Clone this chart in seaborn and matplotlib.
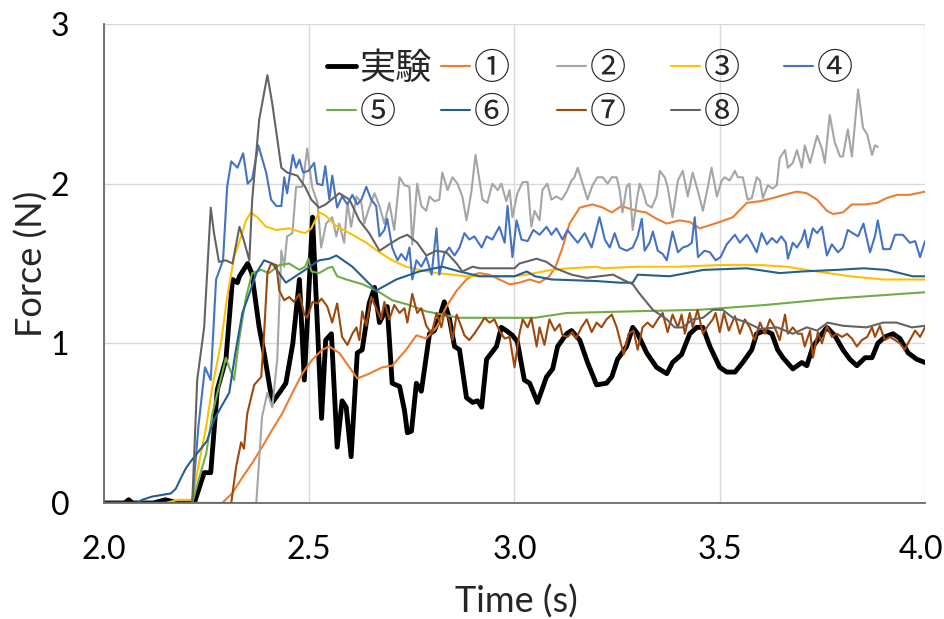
import matplotlib
matplotlib.use("Agg")
import matplotlib.pyplot as plt
import matplotlib.transforms as mtransforms
import seaborn as sns
import pandas as pd
from matplotlib.ticker import MultipleLocator, FormatStrFormatter

# ---------------- data ----------------
series_names = ["実験", "①", "②", "③", "④", "⑤", "⑥", "⑦", "⑧"]

t_exp = [2.00, 2.05, 2.06, 2.07, 2.12, 2.15, 2.18, 2.22, 2.244, 2.26, 2.276, 2.297, 2.313, 2.325, 2.33, 2.35, 2.36,
         2.378, 2.39, 2.41, 2.427, 2.443, 2.46, 2.476, 2.488, 2.508, 2.53, 2.54, 2.554, 2.568, 2.58, 2.59, 2.602,
         2.617, 2.629, 2.646, 2.659, 2.671, 2.683, 2.69, 2.702, 2.72, 2.732, 2.739, 2.749, 2.761, 2.773, 2.793,
         2.805, 2.817, 2.829, 2.841, 2.854, 2.866, 2.883, 2.898, 2.91, 2.92, 2.932, 2.944, 2.956, 2.968, 2.98,
         2.995, 3.007, 3.024, 3.037, 3.056, 3.078, 3.093, 3.105, 3.127, 3.139, 3.159, 3.178, 3.2, 3.224, 3.237,
         3.251, 3.273, 3.288, 3.30, 3.322, 3.346, 3.371, 3.385, 3.407, 3.427, 3.444, 3.459, 3.476, 3.5, 3.517,
         3.537, 3.556, 3.578, 3.59, 3.61, 3.627, 3.641, 3.654, 3.678, 3.70, 3.712, 3.727, 3.749, 3.761, 3.78,
         3.80, 3.817, 3.834, 3.854, 3.871, 3.885, 3.902, 3.922, 3.939, 3.959, 3.98, 4.0]
f_exp = [0.0, 0.0, 0.02, 0.0, 0.0, 0.02, 0.0, 0.0, 0.19, 0.19, 0.71, 0.90, 1.40, 1.38, 1.42, 1.50, 1.44,
         1.10, 0.94, 0.63, 0.69, 0.75, 1.00, 1.40, 0.77, 1.79, 0.53, 1.02, 1.06, 0.35, 0.64, 0.60, 0.29,
         0.94, 0.96, 1.25, 1.35, 1.13, 1.19, 1.23, 0.75, 0.73, 0.58, 0.44, 0.45, 0.75, 0.70, 1.06,
         1.08, 1.16, 1.26, 1.16, 0.98, 0.96, 0.66, 0.63, 0.64, 0.60, 0.90, 0.94, 0.98, 1.10, 1.08,
         1.05, 1.01, 0.77, 0.75, 0.63, 0.79, 0.84, 0.98, 1.06, 1.08, 1.02, 0.88, 0.74, 0.75, 0.79,
         0.90, 0.98, 1.10, 1.06, 0.94, 0.85, 0.81, 0.88, 0.93, 1.06, 1.10, 1.10, 0.98, 0.85, 0.82,
         0.82, 0.88, 0.96, 1.06, 1.08, 1.06, 0.96, 0.91, 0.84, 0.88, 0.86, 0.98, 1.06, 1.10, 1.05,
         0.96, 0.90, 0.86, 0.91, 0.91, 1.00, 1.04, 1.06, 1.03, 0.94, 0.90, 0.88]

t_s1 = [2.0, 2.288, 2.312, 2.337, 2.361, 2.385, 2.41, 2.434, 2.459, 2.483, 2.508, 2.532, 2.549, 2.573, 2.598,
        2.617, 2.646, 2.678, 2.702, 2.736, 2.761, 2.785, 2.81, 2.834, 2.859, 2.883, 2.90, 2.915, 2.939, 2.963,
        2.988, 3.012, 3.037, 3.061, 3.085, 3.10, 3.117, 3.134, 3.159, 3.19, 3.215, 3.237, 3.26, 3.297, 3.32,
        3.346, 3.371, 3.402, 3.427, 3.451, 3.476, 3.5, 3.532, 3.566, 3.598, 3.63, 3.656, 3.688, 3.712, 3.737,
        3.761, 3.776, 3.80, 3.822, 3.854, 3.883, 3.907, 3.932, 3.963, 4.0]
f_s1 = [0.0, 0.0, 0.06, 0.16, 0.25, 0.35, 0.46, 0.56, 0.69, 0.81, 0.90, 0.96, 0.98, 0.94, 0.85,
        0.78, 0.81, 0.85, 0.86, 0.96, 1.05, 1.03, 1.10, 1.23, 1.33, 1.40, 1.43, 1.44, 1.43, 1.40,
        1.37, 1.38, 1.40, 1.38, 1.42, 1.48, 1.60, 1.75, 1.85, 1.87, 1.85, 1.82, 1.86, 1.83, 1.82,
        1.78, 1.75, 1.77, 1.76, 1.72, 1.74, 1.76, 1.79, 1.88, 1.89, 1.91, 1.93, 1.95, 1.94, 1.90,
        1.83, 1.81, 1.82, 1.87, 1.87, 1.88, 1.91, 1.93, 1.93, 1.95]

t_s2 = [2.0, 2.371, 2.385, 2.398, 2.41, 2.422, 2.432, 2.439, 2.446, 2.459, 2.468, 2.483, 2.495, 2.507, 2.52,
        2.529, 2.541, 2.556, 2.566, 2.573, 2.585, 2.593, 2.602, 2.615, 2.627, 2.634, 2.646, 2.659, 2.671,
        2.683, 2.695, 2.707, 2.72, 2.732, 2.744, 2.751, 2.763, 2.773, 2.785, 2.793, 2.805, 2.817, 2.824,
        2.837, 2.849, 2.861, 2.873, 2.883, 2.895, 2.905, 2.922, 2.934, 2.946, 2.959, 2.968, 2.980, 2.988,
        2.995, 3.007, 3.020, 3.032, 3.041, 3.049, 3.061, 3.068, 3.080, 3.090, 3.102, 3.115, 3.127, 3.139,
        3.146, 3.154, 3.166, 3.178, 3.190, 3.202, 3.215, 3.227, 3.237, 3.249, 3.256, 3.263, 3.273, 3.280,
        3.288, 3.298, 3.305, 3.312, 3.322, 3.334, 3.346, 3.354, 3.366, 3.373, 3.385, 3.398, 3.41, 3.422,
        3.434, 3.446, 3.459, 3.471, 3.480, 3.493, 3.505, 3.512, 3.524, 3.537, 3.544, 3.556, 3.568, 3.578,
        3.59, 3.598, 3.605, 3.617, 3.629, 3.639, 3.646, 3.659, 3.666, 3.678, 3.688, 3.70, 3.707, 3.72,
        3.737, 3.749, 3.756, 3.768, 3.78, 3.793, 3.80, 3.812, 3.822, 3.837, 3.849, 3.859, 3.871, 3.878, 3.885]
f_s2 = [0.0, 0.0, 0.54, 0.69, 0.60, 0.90, 1.58, 1.48, 1.67, 1.69, 1.98, 1.98, 2.22, 1.98, 1.88,
        1.60, 1.75, 1.79, 1.67, 1.75, 1.63, 1.88, 1.73, 1.92, 1.88, 1.75, 1.85, 1.94, 1.86,
        1.75, 1.88, 1.71, 2.04, 1.99, 1.98, 1.62, 2.00, 1.86, 1.83, 1.92, 1.89, 1.90, 2.07,
        1.96, 2.04, 2.00, 1.92, 1.77, 1.95, 2.18, 1.90, 1.88, 2.00, 1.96, 2.00, 1.89, 1.96,
        1.79, 1.94, 2.01, 2.01, 1.73, 1.83, 1.77, 1.96, 2.00, 1.90, 1.92, 1.90, 1.95, 2.02,
        2.04, 2.10, 2.00, 1.90, 1.99, 2.04, 2.04, 2.00, 2.04, 2.04, 1.96, 1.82, 1.98, 2.00,
        1.71, 1.90, 2.00, 1.96, 1.87, 1.85, 1.92, 2.08, 2.04, 1.98, 1.79, 2.02, 2.08, 1.92,
        2.07, 1.96, 1.83, 1.98, 2.10, 1.92, 2.02, 2.04, 2.02, 2.08, 2.04, 2.04, 1.90, 1.91,
        2.04, 2.02, 1.91, 1.99, 1.97, 1.99, 2.16, 2.21, 2.10, 2.13, 2.21, 2.10, 2.24, 2.13,
        2.30, 2.22, 2.13, 2.43, 2.26, 2.17, 2.17, 2.34, 2.17, 2.59, 2.35, 2.31, 2.18, 2.24, 2.23]

t_s3 = [2.0, 2.15, 2.18, 2.215, 2.23, 2.249, 2.264, 2.285, 2.30, 2.317, 2.334, 2.346, 2.358, 2.373, 2.395,
        2.42, 2.451, 2.476, 2.49, 2.505, 2.524, 2.54, 2.563, 2.605, 2.639, 2.671, 2.702, 2.736, 2.768, 2.81,
        2.849, 2.883, 3.0, 3.03, 3.09, 3.134, 3.2, 3.215, 3.3, 3.4, 3.5, 3.6, 3.663, 3.737, 3.817, 3.898, 4.0]
f_s3 = [0.0, 0.0, 0.02, 0.02, 0.23, 0.48, 0.73, 1.00, 1.29, 1.54, 1.67, 1.77, 1.82, 1.79, 1.73,
        1.71, 1.72, 1.70, 1.69, 1.72, 1.82, 1.80, 1.74, 1.68, 1.63, 1.57, 1.52, 1.48, 1.46, 1.44,
        1.43, 1.42, 1.42, 1.43, 1.46, 1.47, 1.48, 1.47, 1.48, 1.48, 1.49, 1.49, 1.48, 1.45, 1.42, 1.40, 1.40]

t_s4 = [2.0, 2.215, 2.23, 2.246, 2.26, 2.273, 2.29, 2.30, 2.31, 2.325, 2.339, 2.35, 2.361, 2.376, 2.395,
        2.407, 2.42, 2.432, 2.439, 2.446, 2.46, 2.468, 2.476, 2.485, 2.498, 2.512, 2.519, 2.532, 2.539, 2.549,
        2.556, 2.568, 2.58, 2.593, 2.605, 2.617, 2.627, 2.639, 2.651, 2.663, 2.671, 2.683, 2.69, 2.702, 2.715,
        2.724, 2.736, 2.744, 2.751, 2.761, 2.773, 2.785, 2.798, 2.81, 2.817, 2.829, 2.841, 2.854, 2.866, 2.878,
        2.89, 2.902, 2.92, 2.932, 2.946, 2.963, 2.976, 2.983, 2.995, 3.005, 3.017, 3.032, 3.046, 3.061, 3.078,
        3.09, 3.102, 3.117, 3.129, 3.141, 3.154, 3.171, 3.188, 3.195, 3.207, 3.22, 3.232, 3.244, 3.256, 3.273,
        3.288, 3.30, 3.31, 3.317, 3.329, 3.337, 3.349, 3.361, 3.371, 3.385, 3.398, 3.41, 3.422, 3.432, 3.439,
        3.447, 3.463, 3.476, 3.49, 3.502, 3.517, 3.537, 3.549, 3.566, 3.578, 3.59, 3.602, 3.615, 3.627, 3.639,
        3.65, 3.661, 3.666, 3.678, 3.688, 3.70, 3.707, 3.715, 3.727, 3.737, 3.749, 3.761, 3.773, 3.788, 3.80,
        3.812, 3.824, 3.837, 3.85, 3.866, 3.878, 3.885, 3.898, 3.915, 3.927, 3.946, 3.963, 3.976, 3.988, 4.0]
f_s4 = [0.0, 0.0, 0.48, 0.85, 0.77, 1.40, 1.52, 1.98, 2.14, 2.10, 2.19, 2.00, 2.03, 2.24, 2.07,
        1.90, 1.86, 1.86, 2.04, 1.94, 2.18, 2.10, 2.15, 2.07, 2.08, 2.13, 2.00, 1.99, 2.11, 1.90,
        2.05, 1.85, 1.92, 1.87, 1.93, 1.87, 1.90, 1.98, 1.90, 1.86, 1.67, 1.71, 1.78, 1.60, 1.52,
        1.56, 1.52, 1.60, 1.40, 1.52, 1.48, 1.54, 1.43, 1.72, 1.43, 1.56, 1.60, 1.55, 1.60, 1.69,
        1.65, 1.67, 1.60, 1.67, 1.65, 1.73, 1.63, 1.86, 1.54, 1.77, 1.65, 1.64, 1.71, 1.68, 1.73,
        1.68, 1.72, 1.65, 1.71, 1.67, 1.63, 1.69, 1.60, 1.67, 1.79, 1.65, 1.60, 1.69, 1.60, 1.58,
        1.60, 1.67, 1.78, 1.58, 1.63, 1.70, 1.58, 1.56, 1.52, 1.70, 1.57, 1.60, 1.61, 1.63, 1.79,
        1.54, 1.58, 1.57, 1.52, 1.54, 1.62, 1.68, 1.63, 1.68, 1.63, 1.57, 1.69, 1.62, 1.66, 1.63,
        1.67, 1.63, 1.53, 1.63, 1.60, 1.65, 1.71, 1.60, 1.72, 1.69, 1.73, 1.55, 1.62, 1.57, 1.60,
        1.71, 1.69, 1.67, 1.75, 1.57, 1.67, 1.77, 1.59, 1.59, 1.68, 1.68, 1.63, 1.64, 1.54, 1.64]

t_s5 = [2.0, 2.215, 2.23, 2.249, 2.264, 2.28, 2.297, 2.305, 2.317, 2.329, 2.346, 2.361, 2.383, 2.402, 2.427,
        2.451, 2.476, 2.49, 2.498, 2.505, 2.524, 2.544, 2.556, 2.568, 2.59, 2.63, 2.671, 2.702, 2.744, 2.785,
        2.824, 2.866, 3.05, 3.127, 3.28, 3.45, 3.61, 3.776, 4.0]
f_s5 = [0.0, 0.0, 0.14, 0.31, 0.56, 0.73, 0.91, 0.85, 0.77, 1.02, 1.29, 1.44, 1.46, 1.44, 1.49,
        1.50, 1.46, 1.48, 1.53, 1.45, 1.44, 1.47, 1.48, 1.42, 1.40, 1.37, 1.32, 1.27, 1.24, 1.20,
        1.18, 1.16, 1.16, 1.19, 1.20, 1.21, 1.24, 1.28, 1.32]

t_s6 = [2.0, 2.08, 2.093, 2.117, 2.14, 2.163, 2.175, 2.188, 2.2, 2.217, 2.236, 2.251, 2.268, 2.285, 2.305,
        2.32, 2.337, 2.354, 2.371, 2.39, 2.41, 2.443, 2.49, 2.524, 2.549, 2.566, 2.605, 2.663, 2.712, 2.768,
        2.824, 2.866, 2.915, 3.0, 3.03, 3.05, 3.09, 3.2, 3.256, 3.288, 3.30, 3.378, 3.46, 3.566, 3.646, 3.70,
        3.785, 3.85, 3.907, 3.97, 4.0]
f_s6 = [0.0, 0.0, 0.02, 0.04, 0.05, 0.06, 0.09, 0.16, 0.22, 0.28, 0.34, 0.39, 0.52, 0.60, 0.69,
        0.94, 1.19, 1.31, 1.44, 1.52, 1.50, 1.38, 1.46, 1.52, 1.53, 1.55, 1.48, 1.33, 1.40, 1.45,
        1.48, 1.45, 1.42, 1.42, 1.45, 1.42, 1.40, 1.39, 1.38, 1.38, 1.43, 1.42, 1.46, 1.47, 1.44, 1.45,
        1.46, 1.47, 1.46, 1.42, 1.42]

t_s7 = [2.0, 2.31, 2.322, 2.334, 2.341, 2.349, 2.366, 2.383, 2.39, 2.398, 2.407, 2.42, 2.427, 2.439, 2.451,
        2.463, 2.476, 2.488, 2.495, 2.508, 2.52, 2.53, 2.544, 2.556, 2.568, 2.58, 2.593, 2.605, 2.615, 2.622,
        2.629, 2.639, 2.651, 2.663, 2.675, 2.683, 2.695, 2.707, 2.72, 2.732, 2.739, 2.751, 2.763, 2.773, 2.785,
        2.798, 2.81, 2.822, 2.829, 2.841, 2.849, 2.859, 2.871, 2.878, 2.89, 2.902, 2.915, 2.927, 2.939, 2.951,
        2.963, 2.976, 2.988, 3.0, 3.012, 3.02, 3.032, 3.041, 3.054, 3.061, 3.073, 3.085, 3.098, 3.11, 3.117,
        3.129, 3.141, 3.15, 3.163, 3.176, 3.188, 3.2, 3.212, 3.224, 3.237, 3.249, 3.266, 3.278, 3.29, 3.30,
        3.312, 3.324, 3.337, 3.349, 3.361, 3.373, 3.385, 3.398, 3.407, 3.415, 3.427, 3.434, 3.446, 3.459, 3.471,
        3.483, 3.49, 3.5, 3.51, 3.522, 3.537, 3.549, 3.561, 3.573, 3.585, 3.598, 3.61, 3.622, 3.634, 3.646,
        3.659, 3.666, 3.678, 3.69, 3.70, 3.707, 3.72, 3.727, 3.739, 3.749, 3.761, 3.773, 3.785, 3.798, 3.81,
        3.822, 3.834, 3.846, 3.859, 3.871, 3.878, 3.89, 3.902, 3.915, 3.927, 3.939, 3.95, 3.963, 3.976, 3.988, 4.0]
f_s7 = [0.0, 0.0, 0.23, 0.38, 0.34, 0.56, 0.74, 0.79, 1.06, 1.44, 1.50, 1.49, 1.33, 1.27, 1.29,
        1.26, 1.31, 1.18, 1.16, 1.26, 1.25, 1.28, 1.23, 1.13, 1.25, 1.04, 0.99, 1.06, 1.10, 1.02,
        1.20, 1.11, 1.29, 1.22, 1.15, 1.26, 1.15, 1.24, 1.19, 1.22, 1.13, 1.31, 1.19, 1.22, 1.11,
        1.06, 1.19, 1.10, 1.19, 1.15, 1.02, 1.18, 1.10, 1.05, 1.02, 1.06, 1.11, 1.16, 1.13, 1.15,
        1.08, 1.03, 1.04, 0.85, 1.06, 1.15, 1.10, 1.16, 0.98, 1.10, 0.99, 1.15, 1.08, 1.12, 1.05,
        1.04, 1.07, 1.03, 1.10, 1.15, 1.07, 1.13, 1.10, 1.15, 1.18, 1.10, 0.93, 1.06, 1.08, 0.96,
        1.10, 1.13, 1.10, 1.15, 1.19, 1.07, 1.18, 1.10, 1.18, 1.06, 1.19, 1.10, 1.21, 1.06, 1.11,
        1.15, 1.19, 1.07, 1.19, 1.08, 1.17, 1.06, 1.15, 1.10, 1.02, 1.13, 1.06, 1.15, 1.10, 1.02,
        1.18, 1.06, 1.10, 1.06, 1.06, 0.98, 1.08, 0.91, 1.07, 1.00, 1.11, 1.04, 1.06, 1.04, 1.06,
        1.03, 0.98, 1.02, 1.04, 1.10, 1.04, 1.11, 1.02, 1.04, 1.02, 1.00, 0.96, 1.02, 1.08, 1.04, 1.10]

t_s8 = [2.0, 2.215, 2.227, 2.244, 2.26, 2.268, 2.28, 2.297, 2.313, 2.33, 2.34, 2.354, 2.361, 2.378, 2.398,
        2.41, 2.432, 2.446, 2.471, 2.49, 2.505, 2.524, 2.54, 2.573, 2.598, 2.622, 2.646, 2.671, 2.695, 2.72,
        2.739, 2.763, 2.785, 2.81, 2.834, 2.859, 2.873, 2.898, 2.915, 3.0, 3.012, 3.054, 3.078, 3.10, 3.139,
        3.176, 3.207, 3.24, 3.263, 3.288, 3.305, 3.337, 3.371, 3.39, 3.41, 3.434, 3.459, 3.483, 3.507, 3.532,
        3.566, 3.598, 3.64, 3.678, 3.712, 3.737, 3.763, 3.80, 3.858, 3.898, 3.93, 3.968, 4.0]
f_s8 = [0.0, 0.0, 0.77, 1.10, 1.85, 1.69, 1.51, 1.52, 1.50, 1.73, 1.65, 1.52, 1.90, 2.40, 2.68,
        2.50, 2.10, 2.07, 2.05, 1.98, 1.90, 1.85, 1.87, 1.94, 1.90, 1.77, 1.69, 1.58, 1.62, 1.66,
        1.68, 1.63, 1.55, 1.58, 1.57, 1.50, 1.45, 1.48, 1.47, 1.47, 1.50, 1.53, 1.51, 1.47, 1.43,
        1.41, 1.42, 1.43, 1.40, 1.37, 1.31, 1.21, 1.15, 1.10, 1.10, 1.15, 1.16, 1.21, 1.21, 1.16,
        1.13, 1.09, 1.10, 1.06, 1.10, 1.08, 1.13, 1.11, 1.10, 1.13, 1.13, 1.10, 1.11]

x_ticks = [2.0, 2.5, 3.0, 3.5, 4.0]
y_ticks = [0, 1, 2, 3]

colors = ["#000000", "#ED7D31", "#A5A5A5", "#FFC000", "#4472C4",
          "#70AD47", "#255E91", "#9E480E", "#636363"]
widths = [3.5, 1.5, 1.5, 1.5, 1.5, 1.5, 1.5, 1.5, 1.5]

all_t = [t_exp, t_s1, t_s2, t_s3, t_s4, t_s5, t_s6, t_s7, t_s8]
all_f = [f_exp, f_s1, f_s2, f_s3, f_s4, f_s5, f_s6, f_s7, f_s8]
frames = []
for name, tt, ff in zip(series_names, all_t, all_f):
    frames.append(pd.DataFrame({"Time": tt, "Force": ff, "series": name}))
df = pd.concat(frames, ignore_index=True)

# ---------------- figure ----------------
sns.set_style("white")
plt.rcParams["font.family"] = ["Lato", "Noto Sans CJK JP", "DejaVu Sans"]

W, H = 945, 619
fig = plt.figure(figsize=(W / 100, H / 100), dpi=100)
L, R, T, B = 104, 925, 24, 503
ax = fig.add_axes([L / W, 1 - B / H, (R - L) / W, (B - T) / H])

for name, c, lw in zip(series_names, colors, widths):
    sns.lineplot(data=df[df["series"] == name], x="Time", y="Force", color=c, lw=lw,
                 estimator=None, sort=False, ax=ax, legend=False)

ax.set_xlim(2.0, 4.0)
ax.set_ylim(0, 3)
ax.set_xticks(x_ticks)
ax.set_yticks(y_ticks)
ax.xaxis.set_major_formatter(FormatStrFormatter("%.1f"))
ax.yaxis.set_major_formatter(FormatStrFormatter("%d"))
ax.xaxis.set_minor_locator(MultipleLocator(0.1))
ax.yaxis.set_minor_locator(MultipleLocator(0.2))

spine_c = "#6b6b6b"
for s in ["top", "right"]:
    ax.spines[s].set_visible(False)
for s in ["left", "bottom"]:
    ax.spines[s].set_color(spine_c)
    ax.spines[s].set_linewidth(1.3)

ax.tick_params(axis="both", which="both", direction="in", length=6, width=1, color=spine_c,
               labelsize=23, labelcolor="black")
ax.tick_params(axis="y", which="major", pad=25)
ax.tick_params(axis="x", which="major", pad=23)
ax.grid(True, which="major", color="#D9D9D9", lw=1)
ax.set_axisbelow(True)

ax.set_xlabel("Time (s)", fontsize=26, va="center")
ax.set_ylabel("Force (N)", fontsize=26, va="center")
ax.xaxis.set_label_coords((516 - L) / (R - L), -(602 - B) / (B - T))
ax.yaxis.set_label_coords(-(L - 32) / (R - L), 0.5)

# keep the last x tick label ("4.0") inside the figure edge
last_tick = ax.xaxis.get_major_ticks()[-1]
last_tick.label1.set_transform(last_tick.label1.get_transform() +
                               mtransforms.ScaledTranslation(-4 / 100, 0, fig.dpi_scale_trans))

# legend: Excel-like layout, 5 columns
lines = ax.get_lines()
col_x = [327, 441, 557, 671, 784]
columns = [[0, 5], [1, 6], [2, 7], [3, 8], [4]]
legends = []
for cx, idx in zip(col_x, columns):
    leg = ax.legend([lines[i] for i in idx], [series_names[i] for i in idx],
                    loc="upper left", bbox_to_anchor=(cx / W, 1 - 51 / H),
                    bbox_transform=fig.transFigure, frameon=False,
                    borderpad=0, borderaxespad=0, handlelength=0.8, handletextpad=0.1,
                    labelspacing=0.22, prop={"family": ["Noto Sans CJK JP", "DejaVu Sans"], "size": 26})
    legends.append(leg)
for leg in legends[:-1]:
    ax.add_artist(leg)

fig.savefig("out.png", dpi=100)
